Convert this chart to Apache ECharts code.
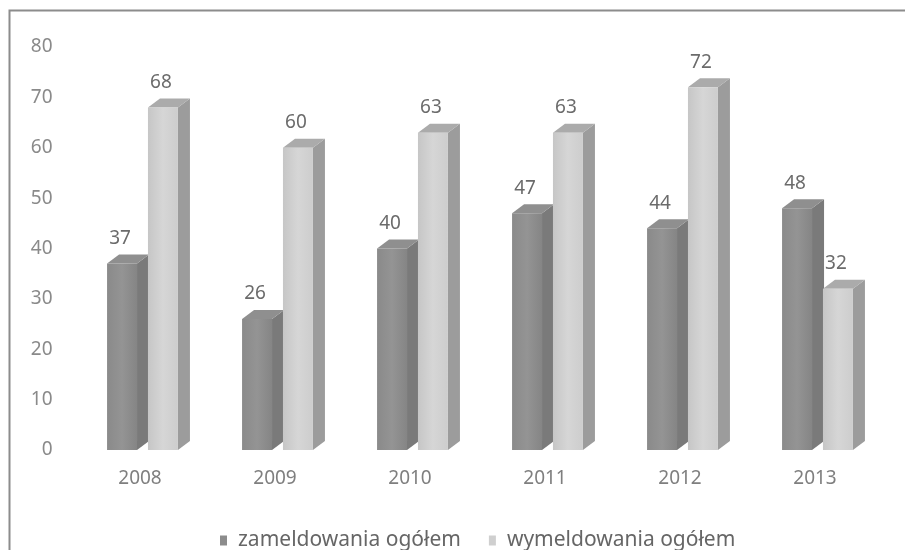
<!DOCTYPE html>
<html>
<head>
<meta charset="utf-8">
<script src="https://cdn.jsdelivr.net/npm/echarts@6/dist/echarts.min.js"></script>
<style>
  html, body { margin: 0; padding: 0; background: #fff; }
  #chart { width: 905px; height: 550px; }
</style>
</head>
<body>
<div id="chart"></div>
<script>
// dane z wykresu
var years = ['2008', '2009', '2010', '2011', '2012', '2013'];
var zameldowania = [37, 26, 40, 47, 44, 48];
var wymeldowania = [68, 60, 63, 63, 72, 32];
var yTicks = { min: 0, max: 80, step: 10 };

var FONT = 'Noto Sans';

// slupek "3D": przod + bok + gora
function makeRender(shift, colors) {
  return function (params, api) {
    var idx = api.value(0);
    var val = api.value(1);
    var top = api.coord([idx, val]);
    var base = api.coord([idx, 0]);
    var band = api.size([1, 0])[0];
    var w = band * 0.222;
    var dx = band * 0.089;
    var dy = 9;
    var x0 = top[0] + band * shift;
    var yT = top[1];
    var yB = base[1];
    return {
      type: 'group',
      children: [
        {
          type: 'polygon',
          shape: { points: [[x0 + w, yT], [x0 + w + dx, yT - dy], [x0 + w + dx, yB - dy], [x0 + w, yB]] },
          style: { fill: colors.side }
        },
        {
          type: 'polygon',
          shape: { points: [[x0, yT], [x0 + dx, yT - dy], [x0 + w + dx, yT - dy], [x0 + w, yT]] },
          style: { fill: colors.top }
        },
        {
          type: 'rect',
          shape: { x: x0, y: yT, width: w, height: yB - yT },
          style: {
            fill: new echarts.graphic.LinearGradient(0, 0, 1, 0, [
              { offset: 0, color: colors.front[0] },
              { offset: 0.5, color: colors.front[1] },
              { offset: 1, color: colors.front[2] }
            ])
          }
        },
        {
          type: 'text',
          style: {
            x: x0 + w / 2 - 2,
            y: yT - 25,
            text: String(val),
            fill: '#6b6b6b',
            font: '19px "' + FONT + '"',
            align: 'center',
            verticalAlign: 'middle'
          }
        }
      ]
    };
  };
}

var chart = echarts.init(document.getElementById('chart'));
chart.setOption({
  backgroundColor: '#fff',
  animation: false,
  textStyle: { fontFamily: FONT },
  graphic: [{
    type: 'rect',
    shape: { x: 9.5, y: 10.5, width: 905, height: 560 },
    style: { fill: 'none', stroke: '#8c8c8c', lineWidth: 2 },
    silent: true
  }],
  grid: { left: 72.5, right: 22.5, top: 47, bottom: 100 },
  legend: {
    left: 215,
    top: 525,
    icon: 'rect',
    itemWidth: 7,
    itemHeight: 10,
    itemGap: 28,
    textStyle: { fontSize: 21, color: '#666666', fontFamily: FONT, padding: [0, 0, 0, 6] },
    data: ['zameldowania ogółem', 'wymeldowania ogółem']
  },
  xAxis: {
    type: 'category',
    data: years,
    axisLine: { show: false },
    axisTick: { show: false },
    axisLabel: { color: '#7f7f7f', fontSize: 19, margin: 19 }
  },
  yAxis: {
    type: 'value',
    min: yTicks.min,
    max: yTicks.max,
    interval: yTicks.step,
    axisLine: { show: false },
    axisTick: { show: false },
    splitLine: { show: false },
    axisLabel: { color: '#8a8a8a', fontSize: 19, margin: 20 }
  },
  series: [
    {
      name: 'zameldowania ogółem',
      type: 'custom',
      itemStyle: { color: '#8c8c8c' },
      encode: { x: 0, y: 1 },
      data: years.map(function (y, i) { return [i, zameldowania[i]]; }),
      renderItem: makeRender(-0.244, {
        front: ['#8a8a8a', '#949494', '#858585'],
        side: '#7a7a7a',
        top: '#8f8f8f'
      })
    },
    {
      name: 'wymeldowania ogółem',
      type: 'custom',
      itemStyle: { color: '#cfcfcf' },
      encode: { x: 0, y: 1 },
      data: years.map(function (y, i) { return [i, wymeldowania[i]]; }),
      renderItem: makeRender(0.059, {
        front: ['#c6c6c6', '#d6d6d6', '#cdcdcd'],
        side: '#9c9c9c',
        top: '#ababab'
      })
    }
  ]
});
</script>
</body>
</html>
